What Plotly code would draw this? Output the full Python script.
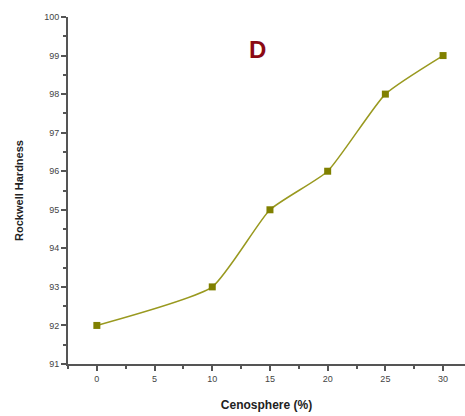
import plotly.graph_objects as go

cenosphere = [0, 10, 15, 20, 25, 30]
hardness = [92, 93, 95, 96, 98, 99]
x_ticks = [0, 5, 10, 15, 20, 25, 30]
y_ticks = [91, 92, 93, 94, 95, 96, 97, 98, 99, 100]

fig = go.Figure()
fig.add_trace(go.Scatter(
    x=cenosphere, y=hardness, mode="lines+markers",
    line=dict(color="#99991f", width=1.5, shape="spline", smoothing=0.5),
    marker=dict(symbol="square", size=7, color="#808000"),
    showlegend=False,
))
fig.add_annotation(x=13.9, y=99.15, text="<b>D</b>", showarrow=False,
                   font=dict(family="Liberation Sans", size=24, color="#8b0a14"))

axis_common = dict(
    showline=True, linecolor="#555555", linewidth=2, showgrid=False, zeroline=False,
    ticks="outside", ticklen=5, tickwidth=2, tickcolor="#555555",
    tickfont=dict(family="Liberation Sans", size=9, color="#444444"),
)
fig.update_xaxes(range=[-2.5, 31.9], tickvals=x_ticks,
                 minor=dict(ticks="outside", ticklen=3, tickcolor="#555555", dtick=2.5, tick0=0),
                 title=dict(text="<b>Cenosphere (%)</b>", font=dict(family="Liberation Sans", size=12, color="#222222"), standoff=18),
                 **axis_common)
fig.update_yaxes(range=[91, 100], tickvals=y_ticks,
                 minor=dict(ticks="outside", ticklen=3, tickcolor="#555555", dtick=0.5, tick0=91),
                 title=dict(text="<b>Rockwell Hardness</b>", font=dict(family="Liberation Sans", size=11, color="#222222"), standoff=18),
                 **axis_common)
fig.update_layout(
    width=465, height=416, margin=dict(l=68, r=0, t=17, b=52),
    plot_bgcolor="white", paper_bgcolor="white",
)
fig.write_html("out.html")
